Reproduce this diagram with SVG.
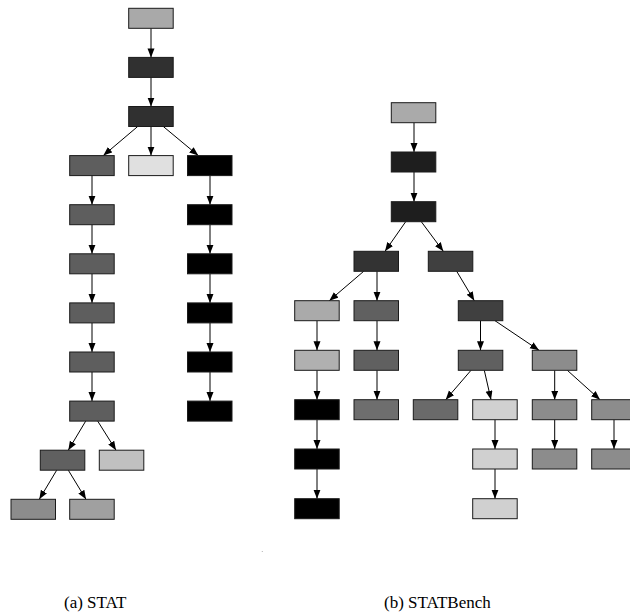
<svg xmlns="http://www.w3.org/2000/svg" width="630" height="613" viewBox="0 0 630 613">
<defs>
<style>
.n{stroke:#1a1a1a;stroke-width:1}
.e{stroke:#000;stroke-width:1;fill:none;marker-end:url(#ah)}
.cap{font-family:"Liberation Serif","Times New Roman",serif;font-size:17px;fill:#000}
</style>
<marker id="ah" markerUnits="userSpaceOnUse" markerWidth="10" markerHeight="8" refX="9" refY="3.5" orient="auto">
<path d="M0,0 L9,3.5 L0,7 z" fill="#000"/>
</marker>
</defs>
<rect width="630" height="613" fill="#fff"/>
<g id="connectors">
<!-- left tree -->
<line class="e" x1="151" y1="28.3" x2="151" y2="57.4"/>
<line class="e" x1="151" y1="77.4" x2="151" y2="106.5"/>
<line class="e" x1="137.7" y1="126.5" x2="103.3" y2="155.6"/>
<line class="e" x1="151" y1="126.5" x2="151" y2="155.6"/>
<line class="e" x1="163.3" y1="126.5" x2="198.3" y2="155.6"/>
<line class="e" x1="92" y1="175.6" x2="92" y2="204.7"/>
<line class="e" x1="92" y1="224.7" x2="92" y2="253.8"/>
<line class="e" x1="92" y1="273.8" x2="92" y2="302.9"/>
<line class="e" x1="92" y1="322.9" x2="92" y2="352"/>
<line class="e" x1="92" y1="372" x2="92" y2="401.1"/>
<line class="e" x1="210" y1="175.6" x2="210" y2="204.7"/>
<line class="e" x1="210" y1="224.7" x2="210" y2="253.8"/>
<line class="e" x1="210" y1="273.8" x2="210" y2="302.9"/>
<line class="e" x1="210" y1="322.9" x2="210" y2="352"/>
<line class="e" x1="210" y1="372" x2="210" y2="401.1"/>
<line class="e" x1="85.7" y1="421.1" x2="68.3" y2="450.2"/>
<line class="e" x1="97.7" y1="421.1" x2="116" y2="450.2"/>
<line class="e" x1="56.7" y1="470.2" x2="39.3" y2="499.3"/>
<line class="e" x1="68.3" y1="470.2" x2="86" y2="499.3"/>
<!-- right tree -->
<line class="e" x1="414" y1="122.7" x2="414" y2="152"/>
<line class="e" x1="414" y1="172" x2="414" y2="201.7"/>
<line class="e" x1="405.7" y1="221.7" x2="385" y2="251.3"/>
<line class="e" x1="421.3" y1="221.7" x2="443.3" y2="251.3"/>
<line class="e" x1="363.7" y1="271.3" x2="329.3" y2="300.7"/>
<line class="e" x1="377" y1="271.3" x2="377" y2="300.7"/>
<line class="e" x1="456.7" y1="271.3" x2="474.3" y2="300.7"/>
<line class="e" x1="317" y1="320.7" x2="317" y2="350.3"/>
<line class="e" x1="317" y1="370.3" x2="317" y2="399.7"/>
<line class="e" x1="317" y1="419.7" x2="317" y2="449"/>
<line class="e" x1="317" y1="469" x2="317" y2="498.7"/>
<line class="e" x1="377" y1="320.7" x2="377" y2="350.3"/>
<line class="e" x1="377" y1="370.3" x2="377" y2="399.7"/>
<line class="e" x1="480.5" y1="320.7" x2="480.5" y2="350.3"/>
<line class="e" x1="495" y1="320.7" x2="539" y2="350.3"/>
<line class="e" x1="471" y1="370.3" x2="445.7" y2="399.7"/>
<line class="e" x1="484.3" y1="370.3" x2="491" y2="399.7"/>
<line class="e" x1="554.7" y1="370.3" x2="554.7" y2="399.7"/>
<line class="e" x1="567.3" y1="370.3" x2="600" y2="399.7"/>
<line class="e" x1="495" y1="419.7" x2="495" y2="449"/>
<line class="e" x1="495" y1="469" x2="495" y2="498.7"/>
<line class="e" x1="554.7" y1="419.7" x2="554.7" y2="449"/>
<line class="e" x1="614" y1="419.7" x2="614" y2="449"/>
</g>
<g id="left-tree">
<g id="a0"><rect class="n" x="128.7" y="8.3" width="44.5" height="20" fill="#a9a9a9"/></g>
<g id="a1"><rect class="n" x="128.7" y="57.4" width="44.5" height="20" fill="#303030"/></g>
<g id="a2"><rect class="n" x="128.7" y="106.5" width="44.5" height="20" fill="#303030"/></g>
<g id="a3l"><rect class="n" x="69.7" y="155.6" width="44.5" height="20" fill="#5e5e5e"/></g>
<g id="a3m"><rect class="n" x="128.7" y="155.6" width="44.5" height="20" fill="#e0e0e0"/></g>
<g id="a3r"><rect class="n" x="187.5" y="155.6" width="44.5" height="20" fill="#000"/></g>
<g id="a4l"><rect class="n" x="69.7" y="204.7" width="44.5" height="20" fill="#5e5e5e"/></g>
<g id="a5l"><rect class="n" x="69.7" y="253.8" width="44.5" height="20" fill="#5e5e5e"/></g>
<g id="a6l"><rect class="n" x="69.7" y="302.9" width="44.5" height="20" fill="#5e5e5e"/></g>
<g id="a7l"><rect class="n" x="69.7" y="352" width="44.5" height="20" fill="#5e5e5e"/></g>
<g id="a8l"><rect class="n" x="69.7" y="401.1" width="44.5" height="20" fill="#5e5e5e"/></g>
<g id="a4r"><rect class="n" x="187.5" y="204.7" width="44.5" height="20" fill="#000"/></g>
<g id="a5r"><rect class="n" x="187.5" y="253.8" width="44.5" height="20" fill="#000"/></g>
<g id="a6r"><rect class="n" x="187.5" y="302.9" width="44.5" height="20" fill="#000"/></g>
<g id="a7r"><rect class="n" x="187.5" y="352" width="44.5" height="20" fill="#000"/></g>
<g id="a8r"><rect class="n" x="187.5" y="401.1" width="44.5" height="20" fill="#000"/></g>
<g id="a9l"><rect class="n" x="40.3" y="450.2" width="44.5" height="20" fill="#606060"/></g>
<g id="a9r"><rect class="n" x="99.3" y="450.2" width="44.5" height="20" fill="#c0c0c0"/></g>
<g id="a10l"><rect class="n" x="11" y="499.3" width="44.5" height="20" fill="#8c8c8c"/></g>
<g id="a10r"><rect class="n" x="69.7" y="499.3" width="44.5" height="20" fill="#a0a0a0"/></g>
</g>
<g id="right-tree">
<g id="b0"><rect class="n" x="391.3" y="102.7" width="44.5" height="20" fill="#aaaaaa"/></g>
<g id="b1"><rect class="n" x="391.3" y="152" width="44.5" height="20" fill="#1e1e1e"/></g>
<g id="b2"><rect class="n" x="391.3" y="201.7" width="44.5" height="20" fill="#1e1e1e"/></g>
<g id="b3l"><rect class="n" x="354" y="251.3" width="44.5" height="20" fill="#333333"/></g>
<g id="b3r"><rect class="n" x="428.3" y="251.3" width="44.5" height="20" fill="#404040"/></g>
<g id="b4a"><rect class="n" x="294.7" y="300.7" width="44.5" height="20" fill="#aaaaaa"/></g>
<g id="b4b"><rect class="n" x="354" y="300.7" width="44.5" height="20" fill="#606060"/></g>
<g id="b4c"><rect class="n" x="458.3" y="300.7" width="44.5" height="20" fill="#404040"/></g>
<g id="b5a"><rect class="n" x="294.7" y="350.3" width="44.5" height="20" fill="#b0b0b0"/></g>
<g id="b5b"><rect class="n" x="354" y="350.3" width="44.5" height="20" fill="#606060"/></g>
<g id="b5c"><rect class="n" x="458.3" y="350.3" width="44.5" height="20" fill="#606060"/></g>
<g id="b5d"><rect class="n" x="532.3" y="350.3" width="44.5" height="20" fill="#8c8c8c"/></g>
<g id="b6a"><rect class="n" x="294.7" y="399.7" width="44.5" height="20" fill="#000"/></g>
<g id="b6b"><rect class="n" x="354" y="399.7" width="44.5" height="20" fill="#6e6e6e"/></g>
<g id="b6c"><rect class="n" x="413.3" y="399.7" width="44.5" height="20" fill="#6a6a6a"/></g>
<g id="b6d"><rect class="n" x="472.7" y="399.7" width="44.5" height="20" fill="#d0d0d0"/></g>
<g id="b6e"><rect class="n" x="532.3" y="399.7" width="44.5" height="20" fill="#8c8c8c"/></g>
<g id="b6f"><rect class="n" x="591.7" y="399.7" width="44.5" height="20" fill="#8c8c8c"/></g>
<g id="b7a"><rect class="n" x="294.7" y="449" width="44.5" height="20" fill="#000"/></g>
<g id="b7d"><rect class="n" x="472.7" y="449" width="44.5" height="20" fill="#d0d0d0"/></g>
<g id="b7e"><rect class="n" x="532.3" y="449" width="44.5" height="20" fill="#8c8c8c"/></g>
<g id="b7f"><rect class="n" x="591.7" y="449" width="44.5" height="20" fill="#8c8c8c"/></g>
<g id="b8a"><rect class="n" x="294.7" y="498.7" width="44.5" height="20" fill="#000"/></g>
<g id="b8d"><rect class="n" x="472.7" y="498.7" width="44.5" height="20" fill="#d0d0d0"/></g>
</g>
<circle cx="262.3" cy="551.5" r="0.6" fill="#aaa"/>
<text class="cap" x="64" y="608">(a) STAT</text>
<text class="cap" x="384" y="608">(b) STATBench</text>
</svg>
